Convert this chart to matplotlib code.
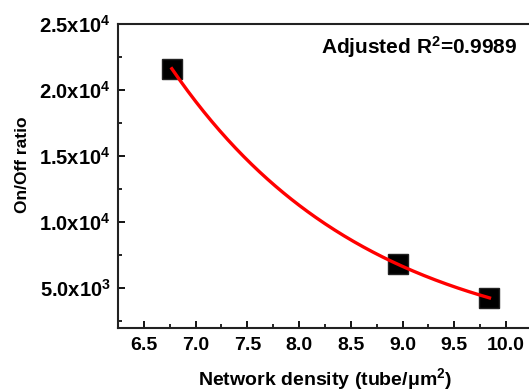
import numpy as np
import matplotlib
matplotlib.use("Agg")
import matplotlib.pyplot as plt
from matplotlib.ticker import MultipleLocator, FuncFormatter

plt.rcParams['font.family'] = ['Liberation Sans', 'DejaVu Sans']
plt.rcParams['font.weight'] = 'bold'
plt.rcParams['mathtext.fontset'] = 'custom'
plt.rcParams['mathtext.rm'] = 'Liberation Sans:bold'
plt.rcParams['mathtext.bf'] = 'Liberation Sans:bold'
plt.rcParams['mathtext.it'] = 'Liberation Sans:bold'
plt.rcParams['mathtext.default'] = 'rm'

# data
density = [6.77, 8.96, 9.84]
onoff = [21600, 6800, 4250]
r2_text = "Adjusted R$^2$=0.9989"

# exponential fit of the points
k, b = np.polyfit(density, np.log(onoff), 1)
xfit = np.linspace(min(density), max(density), 200)
yfit = np.exp(b + k * xfit)

fig = plt.figure(figsize=(5.29, 3.91), dpi=100)
ax = fig.add_axes([0.2231, 0.1619, 0.7824, 0.7767])

ax.plot(density, onoff, 's', color='black', markersize=14,
        markeredgecolor='#222222', zorder=2)
ax.plot(xfit, yfit, color='#ff0000', lw=2.4, zorder=3)

ax.set_xlim(6.25, 10.25)
ax.set_ylim(2000, 25000)
ax.xaxis.set_major_locator(MultipleLocator(0.5))
ax.xaxis.set_minor_locator(MultipleLocator(0.25))
ax.yaxis.set_major_locator(MultipleLocator(5000))
ax.yaxis.set_minor_locator(MultipleLocator(2500))


def sci(v, pos):
    if v <= 0:
        return ""
    e = int(np.floor(np.log10(v)))
    m = v / 10 ** e
    return "%.1fx10$^{%d}$" % (m, e)


ax.yaxis.set_major_formatter(FuncFormatter(sci))
ax.xaxis.set_major_formatter(FuncFormatter(lambda v, p: "%.1f" % v))

ax.tick_params(which='major', direction='in', length=5, width=1.3)
ax.tick_params(which='minor', direction='in', length=3, width=1.2)
ax.tick_params(axis='x', which='major', pad=7, labelsize=14)
ax.tick_params(axis='y', which='major', pad=5, labelsize=14.5)
for s in ax.spines.values():
    s.set_linewidth(1.5)
    s.set_color('#222222')

ax.set_xlabel("Network density (tube/$\\mu$m$^2$)", fontsize=14,
              fontweight='bold')
ax.xaxis.set_label_coords(0.5, -0.128)
ax.set_ylabel("On/Off ratio", fontsize=12.5, fontweight='bold')
ax.yaxis.set_label_coords(-0.212, 0.536)

ax.text(0.966, 0.924, r2_text, transform=ax.transAxes, ha='right',
        va='center', fontsize=15, fontweight='bold')

fig.savefig("out.png", dpi=100)
